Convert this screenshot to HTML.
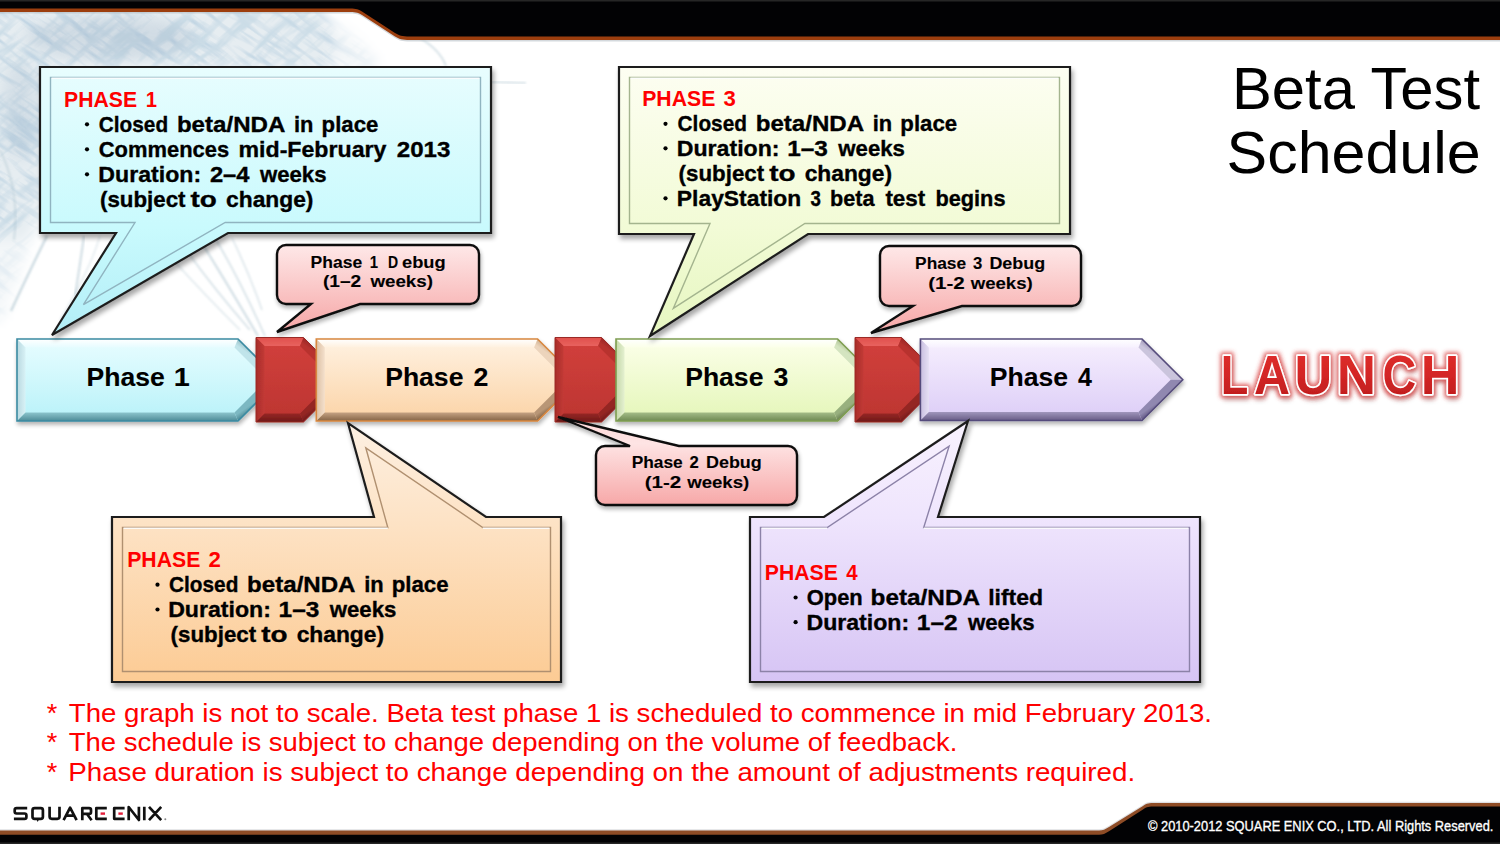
<!DOCTYPE html>
<html><head><meta charset="utf-8"><style>
html,body{margin:0;padding:0;background:#fff;}
body{width:1500px;height:844px;overflow:hidden;position:relative;font-family:"Liberation Sans", sans-serif;}
</style></head><body>
<svg width="1500" height="844" viewBox="0 0 1500 844" style="position:absolute;left:0;top:0;font-family:&quot;Liberation Sans&quot;, sans-serif" font-family="Liberation Sans, sans-serif">

<defs>
 <filter id="sh" x="-10%" y="-10%" width="130%" height="140%">
  <feGaussianBlur in="SourceAlpha" stdDeviation="2.5"/>
  <feOffset dx="2" dy="4" result="o"/>
  <feComponentTransfer><feFuncA type="linear" slope="0.35"/></feComponentTransfer>
  <feMerge><feMergeNode/><feMergeNode in="SourceGraphic"/></feMerge>
 </filter>
 <filter id="sh2" x="-10%" y="-10%" width="130%" height="140%">
  <feGaussianBlur in="SourceAlpha" stdDeviation="2"/>
  <feOffset dx="1" dy="3" result="o"/>
  <feComponentTransfer><feFuncA type="linear" slope="0.3"/></feComponentTransfer>
  <feMerge><feMergeNode/><feMergeNode in="SourceGraphic"/></feMerge>
 </filter>
 <filter id="blur3"><feGaussianBlur stdDeviation="3"/></filter>
 <filter id="blur1"><feGaussianBlur stdDeviation="1.2"/></filter>
 <filter id="glow" x="-10%" y="-30%" width="120%" height="160%">
  <feMorphology in="SourceAlpha" operator="dilate" radius="1.5" result="d"/>
  <feGaussianBlur in="d" stdDeviation="2.2" result="b"/>
  <feFlood flood-color="#d83838" flood-opacity="0.75"/>
  <feComposite in2="b" operator="in" result="g"/>
  <feGaussianBlur in="SourceAlpha" stdDeviation="2.5" result="b2"/>
  <feOffset in="b2" dx="1" dy="4" result="o2"/>
  <feFlood flood-color="#400000" flood-opacity="0.35"/>
  <feComposite in2="o2" operator="in" result="s2"/>
  <feMerge><feMergeNode in="s2"/><feMergeNode in="g"/><feMergeNode in="SourceGraphic"/></feMerge>
 </filter>
 <linearGradient id="gC1" x1="0" y1="0" x2="0" y2="1"><stop offset="0" stop-color="#e8fdfe"/><stop offset="0.6" stop-color="#c9fafd"/><stop offset="1" stop-color="#b2eef7"/></linearGradient>
 <linearGradient id="gC3" x1="0" y1="0" x2="0" y2="1"><stop offset="0" stop-color="#fdfef2"/><stop offset="0.6" stop-color="#f2fbd6"/><stop offset="1" stop-color="#e6f6c0"/></linearGradient>
 <linearGradient id="gC2" x1="0" y1="0" x2="0" y2="1"><stop offset="0" stop-color="#fdf0e2"/><stop offset="0.4" stop-color="#fde2c4"/><stop offset="1" stop-color="#fccb94"/></linearGradient>
 <linearGradient id="gC4" x1="0" y1="0" x2="0" y2="1"><stop offset="0" stop-color="#f8f2fe"/><stop offset="0.37" stop-color="#efe5fd"/><stop offset="1" stop-color="#d6c4f4"/></linearGradient>
 <linearGradient id="gD" x1="0" y1="0" x2="0" y2="1"><stop offset="0" stop-color="#fee8e8"/><stop offset="1" stop-color="#f6a6a6"/></linearGradient>
 <linearGradient id="gDu" x1="0" y1="0" x2="0" y2="1"><stop offset="0" stop-color="#fdd6d6"/><stop offset="0.3" stop-color="#fee4e4"/><stop offset="1" stop-color="#f7a8a8"/></linearGradient>
 <linearGradient id="gP1" x1="0" y1="0" x2="0" y2="1"><stop offset="0" stop-color="#e8fdff"/><stop offset="1" stop-color="#b8f2f9"/></linearGradient>
 <linearGradient id="gP2" x1="0" y1="0" x2="0" y2="1"><stop offset="0" stop-color="#fff2e2"/><stop offset="1" stop-color="#fbd3a6"/></linearGradient>
 <linearGradient id="gP3" x1="0" y1="0" x2="0" y2="1"><stop offset="0" stop-color="#fcffea"/><stop offset="1" stop-color="#e4f6b8"/></linearGradient>
 <linearGradient id="gP4" x1="0" y1="0" x2="0" y2="1"><stop offset="0" stop-color="#f7f0fe"/><stop offset="1" stop-color="#dccdf7"/></linearGradient>
 <linearGradient id="gR" x1="0" y1="0" x2="0" y2="1"><stop offset="0" stop-color="#d2403c"/><stop offset="1" stop-color="#bc3531"/></linearGradient>
 <linearGradient id="gL" x1="0" y1="0" x2="0" y2="1"><stop offset="0" stop-color="#e2302c"/><stop offset="0.5" stop-color="#d42626"/><stop offset="1" stop-color="#b81a1a"/></linearGradient>
 <radialGradient id="bgA" cx="0.5" cy="0.5" r="0.5"><stop offset="0" stop-color="#a9c3d3" stop-opacity="0.55"/><stop offset="1" stop-color="#a9c3d3" stop-opacity="0"/></radialGradient>
 <radialGradient id="bgB" cx="0.5" cy="0.5" r="0.5"><stop offset="0" stop-color="#b8ccd8" stop-opacity="0.45"/><stop offset="1" stop-color="#b8ccd8" stop-opacity="0"/></radialGradient>
</defs>
<rect width="1500" height="844" fill="#fff"/>
<defs>
<filter id="noise" x="-300" y="-300" width="1400" height="1100" filterUnits="userSpaceOnUse">
  <feTurbulence type="fractalNoise" baseFrequency="0.02 0.14" numOctaves="3" seed="11" result="n"/>
  <feColorMatrix in="n" type="matrix" values="0 0 0 0 0.55  0 0 0 0 0.68  0 0 0 0 0.78  3.4 0 0 0 -1.55"/>
</filter>
<filter id="noise2" x="-300" y="-300" width="1400" height="1100" filterUnits="userSpaceOnUse">
  <feTurbulence type="fractalNoise" baseFrequency="0.02 0.12" numOctaves="3" seed="4" result="n"/>
  <feColorMatrix in="n" type="matrix" values="0 0 0 0 0.6  0 0 0 0 0.72  0 0 0 0 0.8  3.4 0 0 0 -1.55"/>
</filter>
<filter id="mblur"><feGaussianBlur stdDeviation="7"/></filter>
<filter id="lblur"><feGaussianBlur stdDeviation="0.9"/></filter>
<mask id="skm" maskUnits="userSpaceOnUse" x="0" y="0" width="700" height="420">
  <rect x="0" y="0" width="700" height="420" fill="#000"/>
  <g filter="url(#mblur)">
    <path d="M-20,5 H310 Q345,20 330,70 H60 Q48,120 46,180 Q42,215 30,240 H-20 Z" fill="#fff"/>
    <path d="M-20,235 H30 Q20,280 0,320 H-20 Z" fill="#fff" opacity="0.45"/>
    <path d="M300,10 Q360,30 380,70 L300,72 Z" fill="#fff" opacity="0.45"/>
  </g>
</mask>
</defs>
<g mask="url(#skm)"><rect x="0" y="0" width="700" height="420" fill="#e6edf1"/><rect x="-300" y="-300" width="1400" height="1100" filter="url(#noise)" transform="rotate(35 200 100)"/><rect x="-300" y="-300" width="1400" height="1100" filter="url(#noise2)" transform="rotate(-40 200 100)"/></g>
<g filter="url(#mblur)" opacity="0.22"><ellipse cx="110" cy="38" rx="85" ry="22" fill="#8aa2ba"/><ellipse cx="20" cy="110" rx="18" ry="50" fill="#9ab0c4"/></g>
<path d="M47,236 Q30,270 11,311" stroke="#9fb9c6" stroke-width="2.2" fill="none" opacity="0.55" filter="url(#lblur)"/>
<path d="M84,236 Q80,265 75,296" stroke="#9fb9c6" stroke-width="2.0" fill="none" opacity="0.5" filter="url(#lblur)"/>
<path d="M186,250 Q215,290 250,330" stroke="#9fb9c6" stroke-width="1.6" fill="none" opacity="0.45" filter="url(#lblur)"/>
<path d="M200,240 Q228,285 258,336" stroke="#9fb9c6" stroke-width="2.0" fill="none" opacity="0.5" filter="url(#lblur)"/>
<path d="M215,238 Q240,280 265,336" stroke="#9fb9c6" stroke-width="1.6" fill="none" opacity="0.45" filter="url(#lblur)"/>
<path d="M232,238 Q250,275 262,310" stroke="#9fb9c6" stroke-width="1.4" fill="none" opacity="0.4" filter="url(#lblur)"/>
<path d="M175,262 Q205,295 240,330" stroke="#9fb9c6" stroke-width="1.4" fill="none" opacity="0.35" filter="url(#lblur)"/>
<path d="M420,38 Q440,50 446,66" stroke="#9fb9c6" stroke-width="1.8" fill="none" opacity="0.45" filter="url(#lblur)"/>
<path d="M491,82 L526,83" stroke="#9fb9c6" stroke-width="1.6" fill="none" opacity="0.5" filter="url(#lblur)"/>
<path d="M0,150 Q20,190 14,240" stroke="#9fb9c6" stroke-width="2.0" fill="none" opacity="0.35" filter="url(#lblur)"/>
<path d="M100,236 Q90,270 60,320" stroke="#9fb9c6" stroke-width="1.4" fill="none" opacity="0.3" filter="url(#lblur)"/>
<path d="M0,0 H1500 V41.5 H410 C402,41.5 399,40.5 395,38 L362,16.5 C357,13.5 355,13.5 348,13.5 H0 Z" fill="#aab4bc" opacity="0.5"/>
<path d="M0,0 H1500 V40 H410 C402,40 399,39 395,36.5 L362,15 C357,12 355,12 348,12 H0 Z" fill="#9c3e0e"/>
<path d="M0,0 H1500 V36.5 H410 C402,36.5 399,35.5 395,33 L362,11.5 C357,8.5 355,8.5 348,8.5 H0 Z" fill="#020204"/>
<rect x="0" y="0" width="1500" height="1.5" fill="#262626"/>
<path d="M0,829.3 H1099 C1103,829.3 1105,828.3 1109,825.8 L1143,804.8 C1147,801.8 1149,801.8 1155,801.8 H1500 V844 H0 Z" fill="#c8cacf" opacity="0.6"/>
<path d="M0,830.6 H1099 C1103,830.6 1105,829.6 1109,827.1 L1143,806 C1147,803 1149,803 1155,803 H1500 V844 H0 Z" fill="#8e4c26"/>
<path d="M0,834.8 H1099 C1103,834.8 1105,833.8 1109,831.3 L1143,809.5 C1147,806.5 1149,806.5 1155,806.5 H1500 V844 H0 Z" fill="#020204"/>
<rect x="0" y="842.5" width="1500" height="1.5" fill="#262626"/>
<g filter="url(#sh2)">
<linearGradient id="bg1" gradientUnits="userSpaceOnUse" x1="0.0" y1="339.0" x2="0.0" y2="347.5"><stop offset="0" stop-color="#ffffff"/><stop offset="1" stop-color="#e6fcff"/></linearGradient>
<linearGradient id="bg2" gradientUnits="userSpaceOnUse" x1="17.0" y1="0.0" x2="25.5" y2="0.0"><stop offset="0" stop-color="#b8d8e0"/><stop offset="1" stop-color="#d8f2f6"/></linearGradient>
<linearGradient id="bg3" gradientUnits="userSpaceOnUse" x1="0.0" y1="421.0" x2="0.0" y2="412.5"><stop offset="0" stop-color="#4e8c98"/><stop offset="1" stop-color="#8cc4cc"/></linearGradient>
<linearGradient id="bg4" gradientUnits="userSpaceOnUse" x1="238.0" y1="339.0" x2="234.5" y2="344.0"><stop offset="0" stop-color="#98c0c8"/><stop offset="1" stop-color="#c0e4ea"/></linearGradient>
<linearGradient id="bg5" gradientUnits="userSpaceOnUse" x1="238.0" y1="421.0" x2="234.5" y2="416.0"><stop offset="0" stop-color="#4a8692"/><stop offset="1" stop-color="#7cb8c2"/></linearGradient>
<polygon points="17.0,339.0 238.0,339.0 279.0,380.0 238.0,421.0 17.0,421.0" fill="url(#gP1)"/>
<polygon points="17.0,339.0 238.0,339.0 234.5,347.5 25.5,347.5" fill="url(#bg1)"/>
<polygon points="17.0,339.0 25.5,347.5 25.5,412.5 17.0,421.0" fill="url(#bg2)"/>
<polygon points="17.0,421.0 25.5,412.5 234.5,412.5 238.0,421.0" fill="url(#bg3)"/>
<polygon points="238.0,339.0 279.0,380.0 267.0,380.0 234.5,347.5" fill="url(#bg4)"/>
<polygon points="279.0,380.0 238.0,421.0 234.5,412.5 267.0,380.0" fill="url(#bg5)"/>
<polygon points="17.0,339.0 238.0,339.0 279.0,380.0 238.0,421.0 17.0,421.0" fill="none" stroke="#3b8ba2" stroke-width="1.6"/>
<linearGradient id="bg6" gradientUnits="userSpaceOnUse" x1="0.0" y1="337.5" x2="0.0" y2="346.0"><stop offset="0" stop-color="#e0504c"/><stop offset="1" stop-color="#e8625e"/></linearGradient>
<linearGradient id="bg7" gradientUnits="userSpaceOnUse" x1="256.0" y1="0.0" x2="264.5" y2="0.0"><stop offset="0" stop-color="#a82c29"/><stop offset="1" stop-color="#c23a36"/></linearGradient>
<linearGradient id="bg8" gradientUnits="userSpaceOnUse" x1="0.0" y1="422.0" x2="0.0" y2="413.5"><stop offset="0" stop-color="#6e1a18"/><stop offset="1" stop-color="#962624"/></linearGradient>
<linearGradient id="bg9" gradientUnits="userSpaceOnUse" x1="303.5" y1="337.5" x2="300.0" y2="342.5"><stop offset="0" stop-color="#9a2826"/><stop offset="1" stop-color="#b8322f"/></linearGradient>
<linearGradient id="bg10" gradientUnits="userSpaceOnUse" x1="303.5" y1="422.0" x2="300.0" y2="417.0"><stop offset="0" stop-color="#6e1a18"/><stop offset="1" stop-color="#942624"/></linearGradient>
<polygon points="256.0,337.5 303.5,337.5 345.8,379.8 303.5,422.0 256.0,422.0" fill="url(#gR)"/>
<polygon points="256.0,337.5 303.5,337.5 300.0,346.0 264.5,346.0" fill="url(#bg6)"/>
<polygon points="256.0,337.5 264.5,346.0 264.5,413.5 256.0,422.0" fill="url(#bg7)"/>
<polygon points="256.0,422.0 264.5,413.5 300.0,413.5 303.5,422.0" fill="url(#bg8)"/>
<polygon points="303.5,337.5 345.8,379.8 333.7,379.8 300.0,346.0" fill="url(#bg9)"/>
<polygon points="345.8,379.8 303.5,422.0 300.0,413.5 333.7,379.8" fill="url(#bg10)"/>
<polygon points="256.0,337.5 303.5,337.5 345.8,379.8 303.5,422.0 256.0,422.0" fill="none" stroke="#9a2a27" stroke-width="1"/>
<linearGradient id="bg11" gradientUnits="userSpaceOnUse" x1="0.0" y1="339.0" x2="0.0" y2="347.5"><stop offset="0" stop-color="#ffffff"/><stop offset="1" stop-color="#fff0de"/></linearGradient>
<linearGradient id="bg12" gradientUnits="userSpaceOnUse" x1="316.3" y1="0.0" x2="324.8" y2="0.0"><stop offset="0" stop-color="#dcc0a4"/><stop offset="1" stop-color="#f4e0cc"/></linearGradient>
<linearGradient id="bg13" gradientUnits="userSpaceOnUse" x1="0.0" y1="421.0" x2="0.0" y2="412.5"><stop offset="0" stop-color="#846446"/><stop offset="1" stop-color="#c4a282"/></linearGradient>
<linearGradient id="bg14" gradientUnits="userSpaceOnUse" x1="537.6" y1="339.0" x2="534.1" y2="344.0"><stop offset="0" stop-color="#d0b090"/><stop offset="1" stop-color="#ecd4bc"/></linearGradient>
<linearGradient id="bg15" gradientUnits="userSpaceOnUse" x1="537.6" y1="421.0" x2="534.1" y2="416.0"><stop offset="0" stop-color="#7e5e40"/><stop offset="1" stop-color="#b89676"/></linearGradient>
<polygon points="316.3,339.0 537.6,339.0 578.6,380.0 537.6,421.0 316.3,421.0" fill="url(#gP2)"/>
<polygon points="316.3,339.0 537.6,339.0 534.1,347.5 324.8,347.5" fill="url(#bg11)"/>
<polygon points="316.3,339.0 324.8,347.5 324.8,412.5 316.3,421.0" fill="url(#bg12)"/>
<polygon points="316.3,421.0 324.8,412.5 534.1,412.5 537.6,421.0" fill="url(#bg13)"/>
<polygon points="537.6,339.0 578.6,380.0 566.6,380.0 534.1,347.5" fill="url(#bg14)"/>
<polygon points="578.6,380.0 537.6,421.0 534.1,412.5 566.6,380.0" fill="url(#bg15)"/>
<polygon points="316.3,339.0 537.6,339.0 578.6,380.0 537.6,421.0 316.3,421.0" fill="none" stroke="#d8873f" stroke-width="1.6"/>
<linearGradient id="bg16" gradientUnits="userSpaceOnUse" x1="0.0" y1="337.5" x2="0.0" y2="346.0"><stop offset="0" stop-color="#e0504c"/><stop offset="1" stop-color="#e8625e"/></linearGradient>
<linearGradient id="bg17" gradientUnits="userSpaceOnUse" x1="555.0" y1="0.0" x2="563.5" y2="0.0"><stop offset="0" stop-color="#a82c29"/><stop offset="1" stop-color="#c23a36"/></linearGradient>
<linearGradient id="bg18" gradientUnits="userSpaceOnUse" x1="0.0" y1="422.0" x2="0.0" y2="413.5"><stop offset="0" stop-color="#6e1a18"/><stop offset="1" stop-color="#962624"/></linearGradient>
<linearGradient id="bg19" gradientUnits="userSpaceOnUse" x1="601.6" y1="337.5" x2="598.1" y2="342.5"><stop offset="0" stop-color="#9a2826"/><stop offset="1" stop-color="#b8322f"/></linearGradient>
<linearGradient id="bg20" gradientUnits="userSpaceOnUse" x1="601.6" y1="422.0" x2="598.1" y2="417.0"><stop offset="0" stop-color="#6e1a18"/><stop offset="1" stop-color="#942624"/></linearGradient>
<polygon points="555.0,337.5 601.6,337.5 643.9,379.8 601.6,422.0 555.0,422.0" fill="url(#gR)"/>
<polygon points="555.0,337.5 601.6,337.5 598.1,346.0 563.5,346.0" fill="url(#bg16)"/>
<polygon points="555.0,337.5 563.5,346.0 563.5,413.5 555.0,422.0" fill="url(#bg17)"/>
<polygon points="555.0,422.0 563.5,413.5 598.1,413.5 601.6,422.0" fill="url(#bg18)"/>
<polygon points="601.6,337.5 643.9,379.8 631.8,379.8 598.1,346.0" fill="url(#bg19)"/>
<polygon points="643.9,379.8 601.6,422.0 598.1,413.5 631.8,379.8" fill="url(#bg20)"/>
<polygon points="555.0,337.5 601.6,337.5 643.9,379.8 601.6,422.0 555.0,422.0" fill="none" stroke="#9a2a27" stroke-width="1"/>
<linearGradient id="bg21" gradientUnits="userSpaceOnUse" x1="0.0" y1="339.0" x2="0.0" y2="347.5"><stop offset="0" stop-color="#ffffff"/><stop offset="1" stop-color="#fbffe8"/></linearGradient>
<linearGradient id="bg22" gradientUnits="userSpaceOnUse" x1="616.0" y1="0.0" x2="624.5" y2="0.0"><stop offset="0" stop-color="#c4d8a8"/><stop offset="1" stop-color="#e4f0d0"/></linearGradient>
<linearGradient id="bg23" gradientUnits="userSpaceOnUse" x1="0.0" y1="421.0" x2="0.0" y2="412.5"><stop offset="0" stop-color="#6e8a52"/><stop offset="1" stop-color="#a4bc88"/></linearGradient>
<linearGradient id="bg24" gradientUnits="userSpaceOnUse" x1="837.6" y1="339.0" x2="834.1" y2="344.0"><stop offset="0" stop-color="#b0c496"/><stop offset="1" stop-color="#d4e4c0"/></linearGradient>
<linearGradient id="bg25" gradientUnits="userSpaceOnUse" x1="837.6" y1="421.0" x2="834.1" y2="416.0"><stop offset="0" stop-color="#687e50"/><stop offset="1" stop-color="#98b07e"/></linearGradient>
<polygon points="616.0,339.0 837.6,339.0 878.6,380.0 837.6,421.0 616.0,421.0" fill="url(#gP3)"/>
<polygon points="616.0,339.0 837.6,339.0 834.1,347.5 624.5,347.5" fill="url(#bg21)"/>
<polygon points="616.0,339.0 624.5,347.5 624.5,412.5 616.0,421.0" fill="url(#bg22)"/>
<polygon points="616.0,421.0 624.5,412.5 834.1,412.5 837.6,421.0" fill="url(#bg23)"/>
<polygon points="837.6,339.0 878.6,380.0 866.6,380.0 834.1,347.5" fill="url(#bg24)"/>
<polygon points="878.6,380.0 837.6,421.0 834.1,412.5 866.6,380.0" fill="url(#bg25)"/>
<polygon points="616.0,339.0 837.6,339.0 878.6,380.0 837.6,421.0 616.0,421.0" fill="none" stroke="#7e9d50" stroke-width="1.6"/>
<linearGradient id="bg26" gradientUnits="userSpaceOnUse" x1="0.0" y1="337.5" x2="0.0" y2="346.0"><stop offset="0" stop-color="#e0504c"/><stop offset="1" stop-color="#e8625e"/></linearGradient>
<linearGradient id="bg27" gradientUnits="userSpaceOnUse" x1="855.0" y1="0.0" x2="863.5" y2="0.0"><stop offset="0" stop-color="#a82c29"/><stop offset="1" stop-color="#c23a36"/></linearGradient>
<linearGradient id="bg28" gradientUnits="userSpaceOnUse" x1="0.0" y1="422.0" x2="0.0" y2="413.5"><stop offset="0" stop-color="#6e1a18"/><stop offset="1" stop-color="#962624"/></linearGradient>
<linearGradient id="bg29" gradientUnits="userSpaceOnUse" x1="901.6" y1="337.5" x2="898.1" y2="342.5"><stop offset="0" stop-color="#9a2826"/><stop offset="1" stop-color="#b8322f"/></linearGradient>
<linearGradient id="bg30" gradientUnits="userSpaceOnUse" x1="901.6" y1="422.0" x2="898.1" y2="417.0"><stop offset="0" stop-color="#6e1a18"/><stop offset="1" stop-color="#942624"/></linearGradient>
<polygon points="855.0,337.5 901.6,337.5 943.9,379.8 901.6,422.0 855.0,422.0" fill="url(#gR)"/>
<polygon points="855.0,337.5 901.6,337.5 898.1,346.0 863.5,346.0" fill="url(#bg26)"/>
<polygon points="855.0,337.5 863.5,346.0 863.5,413.5 855.0,422.0" fill="url(#bg27)"/>
<polygon points="855.0,422.0 863.5,413.5 898.1,413.5 901.6,422.0" fill="url(#bg28)"/>
<polygon points="901.6,337.5 943.9,379.8 931.8,379.8 898.1,346.0" fill="url(#bg29)"/>
<polygon points="943.9,379.8 901.6,422.0 898.1,413.5 931.8,379.8" fill="url(#bg30)"/>
<polygon points="855.0,337.5 901.6,337.5 943.9,379.8 901.6,422.0 855.0,422.0" fill="none" stroke="#9a2a27" stroke-width="1"/>
<linearGradient id="bg31" gradientUnits="userSpaceOnUse" x1="0.0" y1="339.0" x2="0.0" y2="347.5"><stop offset="0" stop-color="#ffffff"/><stop offset="1" stop-color="#f6f0fe"/></linearGradient>
<linearGradient id="bg32" gradientUnits="userSpaceOnUse" x1="920.4" y1="0.0" x2="928.9" y2="0.0"><stop offset="0" stop-color="#c8bee0"/><stop offset="1" stop-color="#e6e0f4"/></linearGradient>
<linearGradient id="bg33" gradientUnits="userSpaceOnUse" x1="0.0" y1="420.5" x2="0.0" y2="412.0"><stop offset="0" stop-color="#675c86"/><stop offset="1" stop-color="#a096bc"/></linearGradient>
<linearGradient id="bg34" gradientUnits="userSpaceOnUse" x1="1142.0" y1="339.0" x2="1138.5" y2="344.0"><stop offset="0" stop-color="#a29ab8"/><stop offset="1" stop-color="#cac4dc"/></linearGradient>
<linearGradient id="bg35" gradientUnits="userSpaceOnUse" x1="1142.0" y1="420.5" x2="1138.5" y2="415.5"><stop offset="0" stop-color="#5e5480"/><stop offset="1" stop-color="#9088b0"/></linearGradient>
<polygon points="920.4,339.0 1142.0,339.0 1182.8,379.8 1142.0,420.5 920.4,420.5" fill="url(#gP4)"/>
<polygon points="920.4,339.0 1142.0,339.0 1138.5,347.5 928.9,347.5" fill="url(#bg31)"/>
<polygon points="920.4,339.0 928.9,347.5 928.9,412.0 920.4,420.5" fill="url(#bg32)"/>
<polygon points="920.4,420.5 928.9,412.0 1138.5,412.0 1142.0,420.5" fill="url(#bg33)"/>
<polygon points="1142.0,339.0 1182.8,379.8 1170.7,379.8 1138.5,347.5" fill="url(#bg34)"/>
<polygon points="1182.8,379.8 1142.0,420.5 1138.5,412.0 1170.7,379.8" fill="url(#bg35)"/>
<polygon points="920.4,339.0 1142.0,339.0 1182.8,379.8 1142.0,420.5 920.4,420.5" fill="none" stroke="#554c7c" stroke-width="1.6"/>
</g>
<g filter="url(#sh)"><path d="M40.0,67.0 L491.0,67.0 L491.0,233.0 L228.0,233.0 L52.0,335.0 L116.0,233.0 L40.0,233.0 Z" fill="url(#gC1)" stroke="#1e1e1e" stroke-width="2.2" stroke-linejoin="miter"/></g>
<path d="M50.5,77.5 L480.5,77.5 L480.5,222.5 L225.2,222.5 L83.4,304.6 L135.0,222.5 L50.5,222.5 Z" fill="none" stroke="#90b4c0" stroke-width="1.4"/>
<path d="M51.5,78.3 H479.5" stroke="#ffffff" stroke-width="1.6" opacity="0.9"/>
<g filter="url(#sh)"><path d="M619.0,67.0 L1070.0,67.0 L1070.0,234.0 L808.0,234.0 L650.0,336.0 L694.0,234.0 L619.0,234.0 Z" fill="url(#gC3)" stroke="#1e1e1e" stroke-width="2.2" stroke-linejoin="miter"/></g>
<path d="M629.5,77.5 L1059.5,77.5 L1059.5,223.5 L804.9,223.5 L673.3,308.4 L710.0,223.5 L629.5,223.5 Z" fill="none" stroke="#a4b48e" stroke-width="1.4"/>
<path d="M630.5,78.3 H1058.5" stroke="#ffffff" stroke-width="1.6" opacity="0.9"/>
<g filter="url(#sh)"><path d="M112.0,517.0 L374.0,517.0 L348.0,423.0 L486.0,517.0 L561.0,517.0 L561.0,682.0 L112.0,682.0 Z" fill="url(#gC2)" stroke="#1e1e1e" stroke-width="2.2" stroke-linejoin="miter"/></g>
<path d="M122.5,527.5 L387.8,527.5 L365.8,447.8 L482.8,527.5 L550.5,527.5 L550.5,671.5 L122.5,671.5 Z" fill="none" stroke="#b09070" stroke-width="1.4"/>
<path d="M123.5,528.3 H387.8 M482.8,528.3 H549.5" stroke="#ffffff" stroke-width="1.6" opacity="0.9"/>
<g filter="url(#sh)"><path d="M750.0,517.0 L824.0,517.0 L968.0,421.0 L938.0,517.0 L1200.0,517.0 L1200.0,682.0 L750.0,682.0 Z" fill="url(#gC4)" stroke="#1e1e1e" stroke-width="2.2" stroke-linejoin="miter"/></g>
<path d="M760.5,527.5 L827.2,527.5 L949.1,446.2 L923.7,527.5 L1189.5,527.5 L1189.5,671.5 L760.5,671.5 Z" fill="none" stroke="#8c82a8" stroke-width="1.4"/>
<path d="M761.5,528.3 H827.2 M923.7,528.3 H1188.5" stroke="#ffffff" stroke-width="1.6" opacity="0.9"/>
<g filter="url(#sh2)"><path d="M286,245 H470 A9,9 0 0 1 479,254 V295 A9,9 0 0 1 470,304 H360 L277,332 L311,304 H286 A9,9 0 0 1 277,295 V254 A9,9 0 0 1 286,245 Z" fill="url(#gD)" stroke="#111" stroke-width="2.4"/></g>
<g filter="url(#sh2)"><path d="M889,246 H1072 A9,9 0 0 1 1081,255 V297 A9,9 0 0 1 1072,306 H962 L871,333 L913,306 H889 A9,9 0 0 1 880,297 V255 A9,9 0 0 1 889,246 Z" fill="url(#gD)" stroke="#111" stroke-width="2.4"/></g>
<g filter="url(#sh2)"><path d="M605,446 H630 L558,417 L679,446 H788 A9,9 0 0 1 797,455 V496 A9,9 0 0 1 788,505 H605 A9,9 0 0 1 596,496 V455 A9,9 0 0 1 605,446 Z" fill="url(#gDu)" stroke="#111" stroke-width="2.4"/></g>
<text x="86.58" y="386" font-size="26" font-weight="bold" fill="#000" stroke="#000" stroke-width="0.1" textLength="78.24" lengthAdjust="spacingAndGlyphs">Phase</text>
<text x="173.69" y="386" font-size="26" font-weight="bold" fill="#000" stroke="#000" stroke-width="0.1" textLength="16.03" lengthAdjust="spacingAndGlyphs">1</text>
<text x="385.18" y="386" font-size="26" font-weight="bold" fill="#000" stroke="#000" stroke-width="0.1" textLength="78.24" lengthAdjust="spacingAndGlyphs">Phase</text>
<text x="473.40" y="386" font-size="26" font-weight="bold" fill="#000" stroke="#000" stroke-width="0.1" textLength="14.88" lengthAdjust="spacingAndGlyphs">2</text>
<text x="685.18" y="386" font-size="26" font-weight="bold" fill="#000" stroke="#000" stroke-width="0.1" textLength="78.24" lengthAdjust="spacingAndGlyphs">Phase</text>
<text x="773.40" y="386" font-size="26" font-weight="bold" fill="#000" stroke="#000" stroke-width="0.1" textLength="14.88" lengthAdjust="spacingAndGlyphs">3</text>
<text x="989.78" y="386" font-size="26" font-weight="bold" fill="#000" stroke="#000" stroke-width="0.1" textLength="78.24" lengthAdjust="spacingAndGlyphs">Phase</text>
<text x="1078.00" y="386" font-size="26" font-weight="bold" fill="#000" stroke="#000" stroke-width="0.1" textLength="13.89" lengthAdjust="spacingAndGlyphs">4</text>
<text x="310.60" y="267.7" font-size="16" font-weight="bold" fill="#000" stroke="#000" stroke-width="0.1" textLength="51.55" lengthAdjust="spacingAndGlyphs">Phase</text>
<text x="369.70" y="267.7" font-size="16" font-weight="bold" fill="#000" stroke="#000" stroke-width="0.1" textLength="8.31" lengthAdjust="spacingAndGlyphs">1</text>
<text x="387.90" y="267.7" font-size="16" font-weight="bold" fill="#000" stroke="#000" stroke-width="0.1" textLength="10.12" lengthAdjust="spacingAndGlyphs">D</text>
<text x="402.00" y="267.7" font-size="16" font-weight="bold" fill="#000" stroke="#000" stroke-width="0.1" textLength="43.65" lengthAdjust="spacingAndGlyphs">ebug</text>
<text x="322.90" y="287.1" font-size="16" font-weight="bold" fill="#000" stroke="#000" stroke-width="0.1" textLength="38.34" lengthAdjust="spacingAndGlyphs">(1–2</text>
<text x="370.40" y="287.1" font-size="16" font-weight="bold" fill="#000" stroke="#000" stroke-width="0.1" textLength="62.54" lengthAdjust="spacingAndGlyphs">weeks)</text>
<text x="915.10" y="268.7" font-size="16" font-weight="bold" fill="#000" stroke="#000" stroke-width="0.1" textLength="51.05" lengthAdjust="spacingAndGlyphs">Phase</text>
<text x="973.00" y="268.7" font-size="16" font-weight="bold" fill="#000" stroke="#000" stroke-width="0.1" textLength="9.30" lengthAdjust="spacingAndGlyphs">3</text>
<text x="989.40" y="268.7" font-size="16" font-weight="bold" fill="#000" stroke="#000" stroke-width="0.1" textLength="55.76" lengthAdjust="spacingAndGlyphs">Debug</text>
<text x="928.20" y="288.7" font-size="16" font-weight="bold" fill="#000" stroke="#000" stroke-width="0.1" textLength="36.58" lengthAdjust="spacingAndGlyphs">(1-2</text>
<text x="970.70" y="288.7" font-size="16" font-weight="bold" fill="#000" stroke="#000" stroke-width="0.1" textLength="62.04" lengthAdjust="spacingAndGlyphs">weeks)</text>
<text x="631.70" y="468" font-size="16" font-weight="bold" fill="#000" stroke="#000" stroke-width="0.1" textLength="51.05" lengthAdjust="spacingAndGlyphs">Phase</text>
<text x="689.60" y="468" font-size="16" font-weight="bold" fill="#000" stroke="#000" stroke-width="0.1" textLength="9.30" lengthAdjust="spacingAndGlyphs">2</text>
<text x="706.00" y="468" font-size="16" font-weight="bold" fill="#000" stroke="#000" stroke-width="0.1" textLength="55.76" lengthAdjust="spacingAndGlyphs">Debug</text>
<text x="644.70" y="488" font-size="16" font-weight="bold" fill="#000" stroke="#000" stroke-width="0.1" textLength="36.58" lengthAdjust="spacingAndGlyphs">(1-2</text>
<text x="687.20" y="488" font-size="16" font-weight="bold" fill="#000" stroke="#000" stroke-width="0.1" textLength="62.04" lengthAdjust="spacingAndGlyphs">weeks)</text>
<text x="64.04" y="106.8" font-size="22" font-weight="bold" fill="#ff0000" textLength="73.03" lengthAdjust="spacingAndGlyphs">PHASE</text>
<text x="145.78" y="106.8" font-size="22" font-weight="bold" fill="#ff0000" textLength="11.25" lengthAdjust="spacingAndGlyphs">1</text>
<text x="98.80" y="132.0" font-size="22" font-weight="bold" fill="#000" stroke="#000" stroke-width="0.35" textLength="69.34" lengthAdjust="spacingAndGlyphs">Closed</text>
<text x="176.91" y="132.0" font-size="22" font-weight="bold" fill="#000" stroke="#000" stroke-width="0.35" textLength="108.41" lengthAdjust="spacingAndGlyphs">beta/NDA</text>
<text x="294.01" y="132.0" font-size="22" font-weight="bold" fill="#000" stroke="#000" stroke-width="0.35" textLength="19.45" lengthAdjust="spacingAndGlyphs">in</text>
<text x="321.59" y="132.0" font-size="22" font-weight="bold" fill="#000" stroke="#000" stroke-width="0.35" textLength="56.78" lengthAdjust="spacingAndGlyphs">place</text>
<text x="98.80" y="157.0" font-size="22" font-weight="bold" fill="#000" stroke="#000" stroke-width="0.35" textLength="130.34" lengthAdjust="spacingAndGlyphs">Commences</text>
<text x="238.55" y="157.0" font-size="22" font-weight="bold" fill="#000" stroke="#000" stroke-width="0.35" textLength="147.82" lengthAdjust="spacingAndGlyphs">mid-February</text>
<text x="396.80" y="157.0" font-size="22" font-weight="bold" fill="#000" stroke="#000" stroke-width="0.35" textLength="53.65" lengthAdjust="spacingAndGlyphs">2013</text>
<text x="98.35" y="182.0" font-size="22" font-weight="bold" fill="#000" stroke="#000" stroke-width="0.35" textLength="102.76" lengthAdjust="spacingAndGlyphs">Duration:</text>
<text x="209.90" y="182.0" font-size="22" font-weight="bold" fill="#000" stroke="#000" stroke-width="0.35" textLength="39.60" lengthAdjust="spacingAndGlyphs">2–4</text>
<text x="259.91" y="182.0" font-size="22" font-weight="bold" fill="#000" stroke="#000" stroke-width="0.35" textLength="66.65" lengthAdjust="spacingAndGlyphs">weeks</text>
<text x="100.00" y="207.0" font-size="22" font-weight="bold" fill="#000" stroke="#000" stroke-width="0.35" textLength="85.55" lengthAdjust="spacingAndGlyphs">(subject</text>
<text x="190.60" y="207.0" font-size="22" font-weight="bold" fill="#000" stroke="#000" stroke-width="0.35" textLength="26.30" lengthAdjust="spacingAndGlyphs">to</text>
<text x="226.10" y="207.0" font-size="22" font-weight="bold" fill="#000" stroke="#000" stroke-width="0.35" textLength="87.37" lengthAdjust="spacingAndGlyphs">change)</text>
<text x="642.24" y="106.3" font-size="22" font-weight="bold" fill="#ff0000" textLength="73.03" lengthAdjust="spacingAndGlyphs">PHASE</text>
<text x="723.60" y="106.3" font-size="22" font-weight="bold" fill="#ff0000" textLength="12.35" lengthAdjust="spacingAndGlyphs">3</text>
<text x="677.60" y="131.2" font-size="22" font-weight="bold" fill="#000" stroke="#000" stroke-width="0.35" textLength="69.34" lengthAdjust="spacingAndGlyphs">Closed</text>
<text x="755.71" y="131.2" font-size="22" font-weight="bold" fill="#000" stroke="#000" stroke-width="0.35" textLength="108.41" lengthAdjust="spacingAndGlyphs">beta/NDA</text>
<text x="872.81" y="131.2" font-size="22" font-weight="bold" fill="#000" stroke="#000" stroke-width="0.35" textLength="19.45" lengthAdjust="spacingAndGlyphs">in</text>
<text x="900.39" y="131.2" font-size="22" font-weight="bold" fill="#000" stroke="#000" stroke-width="0.35" textLength="56.78" lengthAdjust="spacingAndGlyphs">place</text>
<text x="676.75" y="155.7" font-size="22" font-weight="bold" fill="#000" stroke="#000" stroke-width="0.35" textLength="102.76" lengthAdjust="spacingAndGlyphs">Duration:</text>
<text x="787.19" y="155.7" font-size="22" font-weight="bold" fill="#000" stroke="#000" stroke-width="0.35" textLength="40.70" lengthAdjust="spacingAndGlyphs">1–3</text>
<text x="838.31" y="155.7" font-size="22" font-weight="bold" fill="#000" stroke="#000" stroke-width="0.35" textLength="66.65" lengthAdjust="spacingAndGlyphs">weeks</text>
<text x="678.60" y="180.7" font-size="22" font-weight="bold" fill="#000" stroke="#000" stroke-width="0.35" textLength="85.55" lengthAdjust="spacingAndGlyphs">(subject</text>
<text x="769.20" y="180.7" font-size="22" font-weight="bold" fill="#000" stroke="#000" stroke-width="0.35" textLength="26.30" lengthAdjust="spacingAndGlyphs">to</text>
<text x="804.70" y="180.7" font-size="22" font-weight="bold" fill="#000" stroke="#000" stroke-width="0.35" textLength="87.37" lengthAdjust="spacingAndGlyphs">change)</text>
<text x="676.86" y="205.7" font-size="22" font-weight="bold" fill="#000" stroke="#000" stroke-width="0.35" textLength="124.38" lengthAdjust="spacingAndGlyphs">PlayStation</text>
<text x="810.60" y="205.7" font-size="22" font-weight="bold" fill="#000" stroke="#000" stroke-width="0.35" textLength="10.41" lengthAdjust="spacingAndGlyphs">3</text>
<text x="830.02" y="205.7" font-size="22" font-weight="bold" fill="#000" stroke="#000" stroke-width="0.35" textLength="44.45" lengthAdjust="spacingAndGlyphs">beta</text>
<text x="885.40" y="205.7" font-size="22" font-weight="bold" fill="#000" stroke="#000" stroke-width="0.35" textLength="39.91" lengthAdjust="spacingAndGlyphs">test</text>
<text x="935.41" y="205.7" font-size="22" font-weight="bold" fill="#000" stroke="#000" stroke-width="0.35" textLength="70.10" lengthAdjust="spacingAndGlyphs">begins</text>
<text x="127.24" y="567.1999999999999" font-size="22" font-weight="bold" fill="#ff0000" textLength="73.03" lengthAdjust="spacingAndGlyphs">PHASE</text>
<text x="208.60" y="567.1999999999999" font-size="22" font-weight="bold" fill="#ff0000" textLength="12.35" lengthAdjust="spacingAndGlyphs">2</text>
<text x="169.00" y="592.1" font-size="22" font-weight="bold" fill="#000" stroke="#000" stroke-width="0.35" textLength="69.34" lengthAdjust="spacingAndGlyphs">Closed</text>
<text x="247.11" y="592.1" font-size="22" font-weight="bold" fill="#000" stroke="#000" stroke-width="0.35" textLength="108.41" lengthAdjust="spacingAndGlyphs">beta/NDA</text>
<text x="364.21" y="592.1" font-size="22" font-weight="bold" fill="#000" stroke="#000" stroke-width="0.35" textLength="19.45" lengthAdjust="spacingAndGlyphs">in</text>
<text x="391.79" y="592.1" font-size="22" font-weight="bold" fill="#000" stroke="#000" stroke-width="0.35" textLength="56.78" lengthAdjust="spacingAndGlyphs">place</text>
<text x="168.15" y="616.9000000000001" font-size="22" font-weight="bold" fill="#000" stroke="#000" stroke-width="0.35" textLength="102.76" lengthAdjust="spacingAndGlyphs">Duration:</text>
<text x="278.59" y="616.9000000000001" font-size="22" font-weight="bold" fill="#000" stroke="#000" stroke-width="0.35" textLength="40.70" lengthAdjust="spacingAndGlyphs">1–3</text>
<text x="329.71" y="616.9000000000001" font-size="22" font-weight="bold" fill="#000" stroke="#000" stroke-width="0.35" textLength="66.65" lengthAdjust="spacingAndGlyphs">weeks</text>
<text x="170.60" y="641.7" font-size="22" font-weight="bold" fill="#000" stroke="#000" stroke-width="0.35" textLength="85.55" lengthAdjust="spacingAndGlyphs">(subject</text>
<text x="261.20" y="641.7" font-size="22" font-weight="bold" fill="#000" stroke="#000" stroke-width="0.35" textLength="26.30" lengthAdjust="spacingAndGlyphs">to</text>
<text x="296.70" y="641.7" font-size="22" font-weight="bold" fill="#000" stroke="#000" stroke-width="0.35" textLength="87.37" lengthAdjust="spacingAndGlyphs">change)</text>
<text x="764.84" y="579.8" font-size="22" font-weight="bold" fill="#ff0000" textLength="73.03" lengthAdjust="spacingAndGlyphs">PHASE</text>
<text x="846.20" y="579.8" font-size="22" font-weight="bold" fill="#ff0000" textLength="11.40" lengthAdjust="spacingAndGlyphs">4</text>
<text x="806.70" y="604.9000000000001" font-size="22" font-weight="bold" fill="#000" stroke="#000" stroke-width="0.35" textLength="56.03" lengthAdjust="spacingAndGlyphs">Open</text>
<text x="870.59" y="604.9000000000001" font-size="22" font-weight="bold" fill="#000" stroke="#000" stroke-width="0.35" textLength="109.42" lengthAdjust="spacingAndGlyphs">beta/NDA</text>
<text x="988.15" y="604.9000000000001" font-size="22" font-weight="bold" fill="#000" stroke="#000" stroke-width="0.35" textLength="54.93" lengthAdjust="spacingAndGlyphs">lifted</text>
<text x="806.45" y="629.6" font-size="22" font-weight="bold" fill="#000" stroke="#000" stroke-width="0.35" textLength="102.76" lengthAdjust="spacingAndGlyphs">Duration:</text>
<text x="916.89" y="629.6" font-size="22" font-weight="bold" fill="#000" stroke="#000" stroke-width="0.35" textLength="40.70" lengthAdjust="spacingAndGlyphs">1–2</text>
<text x="968.01" y="629.6" font-size="22" font-weight="bold" fill="#000" stroke="#000" stroke-width="0.35" textLength="66.65" lengthAdjust="spacingAndGlyphs">weeks</text>
<text x="1232.02" y="108.6" font-size="60" font-weight="normal" fill="#000" textLength="248.05" lengthAdjust="spacingAndGlyphs">Beta Test</text>
<text x="1226.55" y="173" font-size="60" font-weight="normal" fill="#000" textLength="254.08" lengthAdjust="spacingAndGlyphs">Schedule</text>
<text x="46.80" y="721.5" font-size="26" font-weight="normal" fill="#ff0000" stroke="#ff0000" stroke-width="0.05" textLength="10.53" lengthAdjust="spacingAndGlyphs">*</text>
<text x="68.80" y="721.5" font-size="26" font-weight="normal" fill="#ff0000" stroke="#ff0000" stroke-width="0.05" textLength="1143.21" lengthAdjust="spacingAndGlyphs">The graph is not to scale. Beta test phase 1 is scheduled to commence in mid February 2013.</text>
<text x="46.80" y="750.8" font-size="26" font-weight="normal" fill="#ff0000" stroke="#ff0000" stroke-width="0.05" textLength="10.53" lengthAdjust="spacingAndGlyphs">*</text>
<text x="68.80" y="750.8" font-size="26" font-weight="normal" fill="#ff0000" stroke="#ff0000" stroke-width="0.05" textLength="888.58" lengthAdjust="spacingAndGlyphs">The schedule is subject to change depending on the volume of feedback.</text>
<text x="46.80" y="780.7" font-size="26" font-weight="normal" fill="#ff0000" stroke="#ff0000" stroke-width="0.05" textLength="10.53" lengthAdjust="spacingAndGlyphs">*</text>
<text x="68.23" y="780.7" font-size="26" font-weight="normal" fill="#ff0000" stroke="#ff0000" stroke-width="0.05" textLength="1066.95" lengthAdjust="spacingAndGlyphs">Phase duration is subject to change depending on the amount of adjustments required.</text>
<text x="1148.00" y="830.7" font-size="15" font-weight="normal" fill="#fff" stroke="#fff" stroke-width="0.35" textLength="345.37" lengthAdjust="spacingAndGlyphs">© 2010-2012 SQUARE ENIX CO., LTD. All Rights Reserved.</text>
<circle cx="87" cy="124.3" r="2.1" fill="#000"/>
<circle cx="87" cy="149.3" r="2.1" fill="#000"/>
<circle cx="87" cy="174.3" r="2.1" fill="#000"/>
<circle cx="665.5" cy="123.8" r="2.1" fill="#000"/>
<circle cx="665.5" cy="148.3" r="2.1" fill="#000"/>
<circle cx="665.5" cy="198.3" r="2.1" fill="#000"/>
<circle cx="157.5" cy="584.7" r="2.1" fill="#000"/>
<circle cx="157.5" cy="609.5" r="2.1" fill="#000"/>
<circle cx="795.6" cy="597.5" r="2.1" fill="#000"/>
<circle cx="795.6" cy="622.2" r="2.1" fill="#000"/>
<g filter="url(#glow)">
<text x="1220.79" y="394" font-size="56" font-weight="bold" fill="url(#gL)" stroke="#fff" stroke-width="3.4" stroke-linejoin="round" paint-order="stroke" textLength="27.58" lengthAdjust="spacingAndGlyphs">L</text>
<text x="1253.89" y="394" font-size="56" font-weight="bold" fill="url(#gL)" stroke="#fff" stroke-width="3.4" stroke-linejoin="round" paint-order="stroke" textLength="36.02" lengthAdjust="spacingAndGlyphs">A</text>
<text x="1294.47" y="394" font-size="56" font-weight="bold" fill="url(#gL)" stroke="#fff" stroke-width="3.4" stroke-linejoin="round" paint-order="stroke" textLength="37.69" lengthAdjust="spacingAndGlyphs">U</text>
<text x="1336.65" y="394" font-size="56" font-weight="bold" fill="url(#gL)" stroke="#fff" stroke-width="3.4" stroke-linejoin="round" paint-order="stroke" textLength="39.36" lengthAdjust="spacingAndGlyphs">N</text>
<text x="1382.40" y="394" font-size="56" font-weight="bold" fill="url(#gL)" stroke="#fff" stroke-width="3.4" stroke-linejoin="round" paint-order="stroke" textLength="33.74" lengthAdjust="spacingAndGlyphs">C</text>
<text x="1420.69" y="394" font-size="56" font-weight="bold" fill="url(#gL)" stroke="#fff" stroke-width="3.4" stroke-linejoin="round" paint-order="stroke" textLength="38.70" lengthAdjust="spacingAndGlyphs">H</text>
</g>
<path d="M27.2,808.2 H16.6 Q14.7,808.2 14.7,810.1 V811.6 Q14.7,813.5 16.6,813.5 H24.5 Q26.4,813.5 26.4,815.4 V816.9 Q26.4,818.8 24.5,818.8 H13.9 M34.6,808.2 H40.8 Q42.9,808.2 42.9,810.3 V816.7 Q42.9,818.8 40.8,818.8 H34.6 Q32.5,818.8 32.5,816.7 V810.3 Q32.5,808.2 34.6,808.2 Z M49.6,806.8 V816.6 Q49.6,818.8 51.8,818.8 H57.3 Q59.5,818.8 59.5,816.6 V806.8 M63.6,820.2 L70.1,807.6 L76.6,820.2 M66.4,815.6 H73.8 M82.3,820.2 V808.2 H89.1 Q91,808.2 91,810.1 V811.9 Q91,813.8 89.1,813.8 H82.3 M86.8,813.8 L91.6,820.2 M106.8,808.2 H96.3 V818.8 H106.8 M124.6,808.2 H114.2 V818.8 H124.6 M128.7,820.2 V807 L138.9,820 V806.8 M144.3,806.8 V820.2 M149,806.8 L161.2,820.2 M161.2,806.8 L149,820.2" fill="none" stroke="#111" stroke-width="2.7" stroke-linejoin="round" stroke-linecap="butt"/>
<path d="M36.5,819.5 L37.7,822 L38.9,819.5 Z" fill="#111"/>
<rect x="100.6" y="812.4" width="4.4" height="2.4" fill="#e4203c"/><rect x="118.4" y="812.4" width="4.4" height="2.4" fill="#e4203c"/>
<circle cx="165.3" cy="819.3" r="1" fill="#888"/>
</svg>
</body></html>
